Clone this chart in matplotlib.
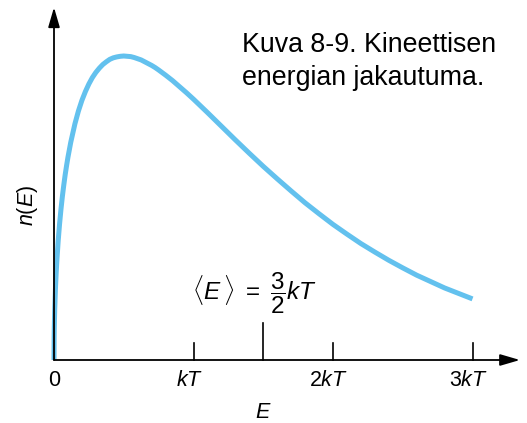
import matplotlib.pyplot as plt
import matplotlib

matplotlib.rcParams['font.family'] = ['Liberation Sans', 'DejaVu Sans']
matplotlib.rcParams['mathtext.fontset'] = 'custom'
matplotlib.rcParams['mathtext.rm'] = 'Liberation Sans'
matplotlib.rcParams['mathtext.it'] = 'Liberation Sans:italic'
matplotlib.rcParams['mathtext.cal'] = 'Liberation Sans'

# energia kT-yksiköissä ja n(E) suhteessa huippuun (luettu kuvasta)
energy = [0, 0.001, 0.002, 0.005, 0.01, 0.015, 0.02, 0.03, 0.04, 0.05, 0.06,
          0.07, 0.08, 0.09, 0.1, 0.12, 0.15, 0.175, 0.2, 0.225, 0.25, 0.275,
          0.3, 0.325, 0.35, 0.375, 0.4, 0.425, 0.45, 0.475, 0.5, 0.525, 0.55,
          0.575, 0.6, 0.625, 0.65, 0.675, 0.7, 0.725, 0.75, 0.8, 0.85, 0.9,
          0.95, 1.0, 1.1, 1.2, 1.3, 1.4, 1.5, 1.6, 1.7, 1.8, 1.9, 2.0, 2.1,
          2.2, 2.3, 2.4, 2.5, 2.6, 2.7, 2.8, 2.9, 3.0]
n_E = [0, 0.074, 0.104, 0.164, 0.231, 0.281, 0.323, 0.392, 0.448, 0.496,
       0.538, 0.575, 0.609, 0.639, 0.667, 0.716, 0.777, 0.819, 0.854, 0.883,
       0.908, 0.929, 0.946, 0.960, 0.972, 0.981, 0.989, 0.994, 0.997, 0.999,
       1.0, 0.999, 0.998, 0.995, 0.991, 0.987, 0.981, 0.975, 0.969, 0.962,
       0.954, 0.937, 0.919, 0.899, 0.879, 0.858, 0.814, 0.769, 0.724, 0.680,
       0.637, 0.596, 0.556, 0.517, 0.481, 0.446, 0.414, 0.383, 0.355, 0.328,
       0.303, 0.279, 0.258, 0.237, 0.219, 0.201]

tick_pos = [1, 2, 3]
tick_labels = [r'$kT$', r'$2kT$', r'$3kT$']
mean_E = 1.5

fig = plt.figure(figsize=(5.27, 4.23), dpi=100)
ax = fig.add_axes([0, 0, 1, 1])
ax.axis('off')

# pikselit -> data: origo (54, 360), 139.5 px / kT, 304 px / huippu
ax.set_xlim(-54 / 139.5, (527 - 54) / 139.5)
ax.set_ylim(-(423 - 360) / 304, 360 / 304)

ax.plot(energy, n_E, color='#63C1EE', lw=3.6, solid_capstyle='butt',
        solid_joinstyle='round', zorder=3)

# akselit nuolineen
arrow = dict(arrowstyle='-|>,head_length=1.2,head_width=0.35', color='black',
             lw=1.3, shrinkA=0, shrinkB=0)
ax.annotate('', xy=(3.34, 0), xytext=(0, 0), arrowprops=arrow)
ax.annotate('', xy=(0, 1.16), xytext=(0, 0), arrowprops=arrow)

# jakoviivat
for p in tick_pos:
    ax.plot([p, p], [0, 17 / 304], color='black', lw=1.2)
ax.plot([mean_E, mean_E], [0, 37 / 304], color='black', lw=1.2)

ax.text(0, -20 / 304, '0', ha='center', va='center', fontsize=15.5)
for p, lab in zip(tick_pos, tick_labels):
    ax.text(p - 0.03, -20 / 304, lab, ha='center', va='center', fontsize=15.5)

ax.text(1.5, -52 / 304, r'$E$', ha='center', va='center', fontsize=15.5)
ax.text(-0.19, 0.51, r'$n(E)$', ha='center', va='center', fontsize=15.5,
        rotation=90)

ax.text(1.44, 67 / 304, r'$\langle E\,\rangle\ =\ \dfrac{3}{2}kT$',
        ha='center', va='center', fontsize=17.5)

ax.text(1.35, 1.08, 'Kuva 8-9. Kineettisen\nenergian jakautuma.',
        ha='left', va='top', fontsize=19.3, linespacing=1.35)

fig.savefig('out.png', dpi=100)
